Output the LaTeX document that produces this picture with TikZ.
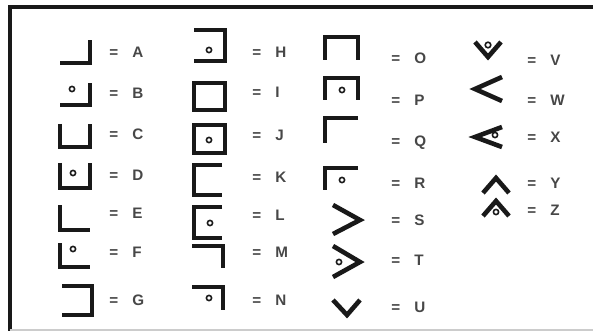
\documentclass[tikz,border=0pt]{standalone}
\usepackage{fontspec}
\setmainfont{Liberation Sans}
\newcommand{\keyeq}[1]{=\hspace{7pt}#1}
\begin{document}
\begin{tikzpicture}[x=0.5pt, y=-0.5pt,
  pig/.style={line width=2.3pt, line join=miter, black!90},
  pigdot/.style={line width=0.8pt, black!90},
  keytext/.style={anchor=west, inner sep=0pt, font=\fontsize{7.6}{9}\selectfont\bfseries, text=black!72}]
  \useasboundingbox (0,0) rectangle (593,331);
  \fill[white] (0,0) rectangle (593,331);
  % frame
  \draw[line width=2pt, black!90] (593,7.5) -- (9.5,7.5) -- (9.5,331);
  \draw[gray!40, line width=0.6pt] (9.5,330) -- (593,330);
  % column 1
  \draw[pig] (60,63) -- (90,63) -- (90,40);
  \draw[pig] (60,105) -- (90,105) -- (90,83);
  \draw[pigdot] (72,89) circle (2.6);
  \draw[pig] (60,124) -- (60,147) -- (90,147) -- (90,124);
  \draw[pig] (60,163) -- (60,188) -- (90,188) -- (90,163);
  \draw[pigdot] (73,173) circle (2.6);
  \draw[pig] (60,205) -- (60,230) -- (90,230);
  \draw[pig] (60,243) -- (60,267) -- (90,267);
  \draw[pigdot] (73,249) circle (2.6);
  \draw[pig] (62,286) -- (92,286) -- (92,315) -- (62,315);
  \node[keytext] (kA) at (109,52) {\keyeq{A}};
  \node[keytext] (kB) at (109,93) {\keyeq{B}};
  \node[keytext] (kC) at (109,134) {\keyeq{C}};
  \node[keytext] (kD) at (109,175) {\keyeq{D}};
  \node[keytext] (kE) at (109,213) {\keyeq{E}};
  \node[keytext] (kF) at (109,252) {\keyeq{F}};
  \node[keytext] (kG) at (109,300) {\keyeq{G}};
  % column 2
  \draw[pig] (194,30) -- (225,30) -- (225,61) -- (194,61);
  \draw[pigdot] (209,50) circle (2.6);
  \draw[pig] (194,83) rectangle (225,110);
  \draw[pig] (194,125) rectangle (225,153);
  \draw[pigdot] (209,140) circle (2.6);
  \draw[pig] (222,165) -- (194,165) -- (194,195) -- (222,195);
  \draw[pig] (222,207) -- (194,207) -- (194,238) -- (222,238);
  \draw[pigdot] (210,223) circle (2.6);
  \draw[pig] (192,246) -- (223,246) -- (223,268);
  \draw[pig] (192,287) -- (223,287) -- (223,310);
  \draw[pigdot] (209,298) circle (2.6);
  \node[keytext] (kH) at (252,52) {\keyeq{H}};
  \node[keytext] (kI) at (252,92) {\keyeq{I}};
  \node[keytext] (kJ) at (252,135) {\keyeq{J}};
  \node[keytext] (kK) at (252,177) {\keyeq{K}};
  \node[keytext] (kL) at (252,215) {\keyeq{L}};
  \node[keytext] (kM) at (252,252) {\keyeq{M}};
  \node[keytext] (kN) at (252,300) {\keyeq{N}};
  % column 3
  \draw[pig] (325,60) -- (325,37) -- (358,37) -- (358,60);
  \draw[pig] (325,100) -- (325,78) -- (358,78) -- (358,100);
  \draw[pigdot] (342,90) circle (2.6);
  \draw[pig] (358,118) -- (325,118) -- (325,143);
  \draw[pig] (358,168) -- (325,168) -- (325,190);
  \draw[pigdot] (342,180) circle (2.6);
  \draw[pig] (333,205) -- (360,220) -- (333,234);
  \draw[pig] (333,246) -- (360,262) -- (333,277);
  \draw[pigdot] (339,262) circle (2.6);
  \draw[pig] (333,300) -- (347,315) -- (360,300);
  \node[keytext] (kO) at (391,58) {\keyeq{O}};
  \node[keytext] (kP) at (391,100) {\keyeq{P}};
  \node[keytext] (kQ) at (391,143) {\keyeq{Q}};
  \node[keytext] (kR) at (391,183) {\keyeq{R}};
  \node[keytext] (kS) at (391,220) {\keyeq{S}};
  \node[keytext] (kT) at (391,260) {\keyeq{T}};
  \node[keytext] (kU) at (391,307) {\keyeq{U}};
  % column 4
  \draw[pig] (475,42) -- (488,57) -- (501,42);
  \draw[pigdot] (488,45) circle (2.8);
  \draw[pig] (502,77) -- (475,89) -- (502,101);
  \draw[pig] (502,127) -- (475,137) -- (502,147);
  \draw[pigdot] (495,135) circle (2.6);
  \draw[pig] (483,193) -- (496,178) -- (509,193);
  \draw[pig] (483,216) -- (496,201) -- (509,216);
  \draw[pigdot] (496,212) circle (2.6);
  \node[keytext] (kV) at (527,60) {\keyeq{V}};
  \node[keytext] (kW) at (527,100) {\keyeq{W}};
  \node[keytext] (kX) at (527,137) {\keyeq{X}};
  \node[keytext] (kY) at (527,183) {\keyeq{Y}};
  \node[keytext] (kZ) at (527,210) {\keyeq{Z}};
\end{tikzpicture}
\end{document}
